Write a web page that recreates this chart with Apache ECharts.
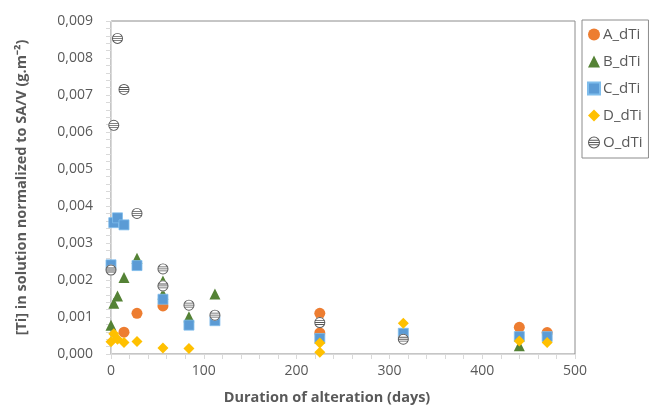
<!DOCTYPE html>
<html>
<head>
<meta charset="utf-8">
<script src="https://cdn.jsdelivr.net/npm/echarts@6/dist/echarts.min.js"></script>
<style>
  html, body { margin: 0; padding: 0; background: #fff; }
  #chart { width: 650px; height: 411px; }
</style>
</head>
<body>
<div id="chart"></div>
<script>
// Dissolved Ti normalised to SA/V, per sample, against alteration time (days)
const A_days = [14, 28, 56, 225, 225, 440, 470];
const A_vals = [0.00059, 0.00110, 0.00130, 0.00110, 0.00057, 0.00072, 0.00058];

const B_days = [0, 3, 7, 14, 28, 56, 56, 84, 112, 440];
const B_vals = [0.00078, 0.00137, 0.00157, 0.00207, 0.00259, 0.00197, 0.00162, 0.00101, 0.00162, 0.00022];

const C_days = [0, 3, 7, 14, 28, 56, 84, 112, 225, 315, 440, 470];
const C_vals = [0.00241, 0.00355, 0.00368, 0.00349, 0.00239, 0.00148, 0.00078, 0.00090, 0.00042, 0.00056, 0.00047, 0.00047];

const D_days = [0, 3, 7, 14, 28, 56, 84, 225, 225, 315, 440, 470];
const D_vals = [0.00033, 0.00055, 0.00040, 0.00031, 0.00034, 0.00016, 0.00015, 0.00030, 0.00005, 0.00083, 0.00035, 0.00031];

const O_days = [0, 3, 7, 14, 28, 56, 56, 84, 112, 225, 315];
const O_vals = [0.00227, 0.00618, 0.00853, 0.00715, 0.00380, 0.00230, 0.00184, 0.00132, 0.00105, 0.00085, 0.00040];

const seriesNames = ['A_dTi', 'B_dTi', 'C_dTi', 'D_dTi', 'O_dTi'];
const xTicks = { min: 0, max: 500, step: 100 };
const yTicks = { min: 0, max: 0.009, step: 0.001 };

const pts = (xs, ys) => xs.map((x, i) => [x, ys[i]]);

// ring with three horizontal bars, for the striped O marker
const stripedCircle = 'path://' +
  'M0,10 A10,10 0 1,1 20,10 A10,10 0 1,1 0,10 Z ' +
  'M1.7,10 A8.3,8.3 0 1,0 18.3,10 A8.3,8.3 0 1,0 1.7,10 Z ' +
  'M1.4,5.6 H18.6 V7.2 H1.4 Z ' +
  'M0.5,9.2 H19.5 V10.8 H0.5 Z ' +
  'M1.4,12.8 H18.6 V14.4 H1.4 Z';

const font = 'Open Sans';
const grey = '#595959';

const chart = echarts.init(document.getElementById('chart'), null, { renderer: 'canvas' });
chart.setOption({
  animation: false,
  backgroundColor: '#fff',
  textStyle: { fontFamily: font },
  grid: {
    left: 111, right: 75, top: 21, bottom: 57,
    show: true, borderColor: '#8c8c8c', borderWidth: 1
  },
  legend: {
    data: seriesNames,
    orient: 'vertical',
    left: 582, top: 20,
    width: 66,
    padding: [7, 6, 8, 5],
    itemGap: 12,
    itemWidth: 12, itemHeight: 12,
    borderColor: '#8c8c8c', borderWidth: 1,
    textStyle: { color: grey, fontSize: 15, fontFamily: font, padding: [0, 0, 0, -2] }
  },
  xAxis: {
    type: 'value',
    min: xTicks.min, max: xTicks.max, interval: xTicks.step,
    name: 'Duration of alteration (days)',
    nameLocation: 'middle',
    nameGap: 36,
    nameTextStyle: { color: grey, fontSize: 14.5, fontWeight: 'bold', fontFamily: font, padding: [0, 32, 0, 0] },
    axisLine: { show: true, lineStyle: { color: '#d9d9d9', width: 1 } },
    axisTick: { show: true, length: 5, lineStyle: { color: '#d9d9d9' } },
    minorTick: { show: true, splitNumber: 5, length: 5, lineStyle: { color: '#d9d9d9' } },
    splitLine: { show: false },
    axisLabel: { color: grey, fontSize: 14, margin: 10, fontFamily: font }
  },
  yAxis: {
    type: 'value',
    min: yTicks.min, max: yTicks.max, interval: yTicks.step,
    name: '[Ti] in solution normalized to SA/V (g.m\u207B\u00B2)',
    nameLocation: 'middle',
    nameGap: 82,
    nameTextStyle: { color: grey, fontSize: 14.5, fontWeight: 'bold', fontFamily: font },
    axisLine: { show: true, lineStyle: { color: '#d9d9d9', width: 1 } },
    axisTick: { show: true, length: 5, lineStyle: { color: '#d9d9d9' } },
    minorTick: { show: true, splitNumber: 5, length: 5, lineStyle: { color: '#d9d9d9' } },
    splitLine: { show: false },
    axisLabel: {
      color: grey, fontSize: 14, margin: 18, fontFamily: font,
      formatter: v => v.toFixed(3).replace('.', ',')
    }
  },
  series: [
    {
      name: 'A_dTi', type: 'scatter', data: pts(A_days, A_vals),
      symbol: 'circle', symbolSize: 11,
      itemStyle: { color: '#ED7D31', opacity: 1 }
    },
    {
      name: 'B_dTi', type: 'scatter', data: pts(B_days, B_vals),
      symbol: 'triangle', symbolSize: 11,
      itemStyle: { color: '#548235', opacity: 1 }
    },
    {
      name: 'C_dTi', type: 'scatter', data: pts(C_days, C_vals),
      symbol: 'rect', symbolSize: 10,
      itemStyle: { color: '#5B9BD5', borderColor: '#7fbdec', borderWidth: 0.8, opacity: 1 }
    },
    {
      name: 'D_dTi', type: 'scatter', data: pts(D_days, D_vals),
      symbol: 'diamond', symbolSize: 11,
      itemStyle: { color: '#FFC000', opacity: 1 }
    },
    {
      // white disc under the striped marker so it hides what lies beneath
      name: 'O_dTi_fill', type: 'scatter', data: pts(O_days, O_vals),
      symbol: 'circle', symbolSize: 11,
      itemStyle: { color: '#fff', opacity: 1 },
      silent: true
    },
    {
      name: 'O_dTi', type: 'scatter', data: pts(O_days, O_vals),
      symbol: stripedCircle, symbolSize: 11, symbolKeepAspect: true,
      itemStyle: { color: '#595959', opacity: 1 }
    }
  ]
});
</script>
</body>
</html>
